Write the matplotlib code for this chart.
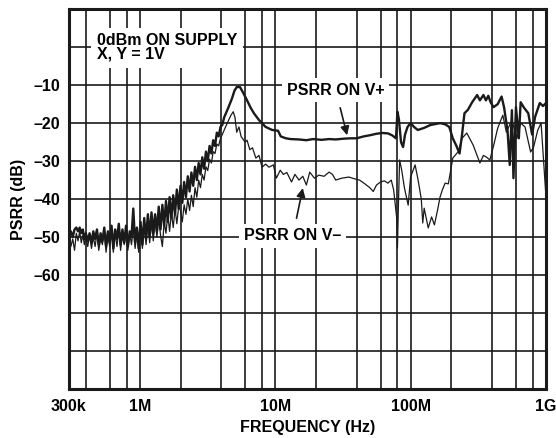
import matplotlib
matplotlib.use('Agg')
import matplotlib.pyplot as plt
import numpy as np

plt.rcParams['font.family'] = ['Liberation Sans', 'DejaVu Sans']
plt.rcParams['font.weight'] = 'bold'

# sample frequencies (MHz) for the noisy low-frequency part, shared by both traces
low_mhz = [0.300, 0.310, 0.320, 0.330, 0.340, 0.350, 0.360, 0.370, 0.380, 0.390, 0.400, 0.413,
           0.426, 0.440, 0.454, 0.468, 0.483, 0.498, 0.514, 0.530, 0.547, 0.564, 0.582, 0.600,
           0.619, 0.638, 0.658, 0.679, 0.700, 0.722, 0.745, 0.768, 0.792, 0.817, 0.843, 0.869,
           0.896, 0.924, 0.953, 0.983, 1.014, 1.046, 1.079, 1.113, 1.148, 1.184, 1.221, 1.259,
           1.298, 1.339, 1.381, 1.424, 1.469, 1.515, 1.562, 1.611, 1.661, 1.713, 1.767, 1.822,
           1.879, 1.938, 1.999, 2.062, 2.127, 2.194, 2.263, 2.334, 2.407, 2.482, 2.560, 2.640,
           2.723, 2.808, 2.896, 2.987, 3.081, 3.178, 3.278, 3.381, 3.487, 3.596, 3.709, 3.825,
           3.945, 4.069]

# PSRR on V+ (thick trace), dB
vplus_low_db = [-50.5, -48.5, -50, -48, -47.5, -48.5, -47.5, -49, -48, -50.5, -49, -51,
                -49, -51.5, -48.5, -50.5, -48, -52, -49, -51, -47.5, -52.5, -48.5, -51.5,
                -47, -53, -48, -50.5, -46.5, -52, -48, -51.5, -47, -52.5, -48.5, -50,
                -42.5, -51.5, -47.5, -53, -46, -52, -45, -50.5, -44, -50, -43.5, -49,
                -44, -48.5, -42, -48, -41.5, -47, -40.5, -46, -39.5, -45, -39, -44,
                -37.5, -42.5, -36.5, -41, -35.5, -39.5, -34, -38, -33, -36.5, -31.5, -35,
                -30.5, -33.5, -29, -32, -27.5, -30, -26, -28, -24.5, -26, -22.5, -23.5,
                -21, -20.5]
vplus_high_mhz = [4.2, 4.5, 4.8, 5.0, 5.2, 5.5, 5.8, 6.2, 6.6, 7.0, 7.6, 8.5, 9.5, 10.5, 11,
                  12, 13, 15, 17, 19, 22, 25, 28, 32, 36, 40, 45, 50, 56, 62, 68, 73, 78, 80, 82, 85,
                  88, 91, 95, 100, 106, 113, 125, 140, 155, 165, 180, 193, 205, 218, 230, 240, 250,
                  265, 285, 310, 325, 345, 360, 375, 390, 410, 440, 470, 490, 520, 540, 560, 575,
                  600, 630, 650, 690, 740, 790, 830, 900, 950, 1000]
vplus_high_db = [-18.5, -16, -13.5, -11.5, -10.5, -10.5, -12, -14, -16, -17.5, -19.2, -21, -21.8, -22, -23.5,
                 -24, -24.2, -24.3, -24.5, -24.2, -24.4, -24.2, -24.3, -24.1, -24, -24, -23.5, -23.2, -22.8, -22.6, -22.7, -23.2, -24, -17, -19, -25,
                 -26.3, -23, -21, -20, -21, -21.8, -21.3, -20.5, -20.2, -20, -20.3, -21, -24, -26, -28, -23, -17.4,
                 -16.5, -14.5, -12.6, -14, -12.6, -14, -12.8, -14.5, -15.8, -15, -13, -15.8, -22, -31, -16.6, -34.5,
                 -15.8, -24, -14.5, -16, -17.4, -23, -18.4, -14.7, -15.5, -14.7]

# PSRR on V- (thin trace), dB
vminus_low_db = [-49, -52.5, -50.5, -53.5, -49, -51, -48.5, -51.5, -49.5, -52, -50, -52.5,
                 -49.5, -53, -50, -52.5, -49, -53.5, -50.5, -52, -48.5, -54, -49.5, -52.5,
                 -48.5, -54, -49, -52.5, -48, -53.5, -49.5, -52, -48.5, -53.5, -49, -52,
                 -47.5, -53, -49, -54, -48, -53, -47, -52, -46.5, -51.5, -46, -51,
                 -45.5, -50, -45, -49.5, -52.5, -46, -49, -44, -48.5, -43.5, -47.5, -42.5,
                 -46.5, -42, -43, -46, -41.5, -44, -40, -43, -39, -42, -37, -39.5,
                 -35, -37, -33.5, -35, -31.5, -32.5, -29.5, -30.5, -27.5, -28, -25.5, -26,
                 -24, -23]
vminus_high_mhz = [4.3, 4.5, 4.7, 4.9, 5.05, 5.2, 5.4, 5.6, 6.0, 6.2, 6.5, 6.8, 7.2, 7.6, 8.0, 8.5,
                   9.0, 9.7, 10.2, 10.9, 11.5, 12.2, 13.2, 14, 15, 16, 17, 18, 19.5, 21, 23, 25, 26.5,
                   28, 31, 35, 38, 42, 46, 50, 53, 56, 60, 64, 68, 72, 75, 79, 80, 81.5, 83, 86, 90, 96,
                   100, 108, 113, 120, 123, 126, 135, 143, 150, 158, 165, 172, 180, 190, 205, 225, 240,
                   260, 290, 325, 345, 365, 385, 410, 440, 480, 510, 560, 610, 650, 700, 770, 810, 870,
                   920, 1000]
vminus_high_db = [-21, -19.5, -18, -17, -18.5, -22.4, -21, -23.5, -25, -24.5, -27, -26.5, -29.2, -28.5, -31.6, -30.8,
                  -31.6, -31, -34.5, -32.4, -33.5, -33, -35.5, -33.5, -35, -34, -36.3, -32.9, -34.5, -33.7, -34, -32.9, -33.5,
                  -35, -34.5, -34.2, -34.6, -35, -36, -37, -38, -36.3, -35.5, -35.2, -35.8, -35, -37.6, -45, -52.9, -40, -29.7, -32.4, -37, -41.6,
                  -34.2, -31, -34.5, -40, -46.3, -42.4, -47.6, -44.7, -46.8, -43, -39.5, -37.5, -35.8, -36, -29.2, -27.5, -24,
                  -22.6, -25.8, -30.5, -28.5, -29, -29.7, -26, -21.3, -17.9, -22.4, -19.2, -24, -20, -21, -27.6, -26.3, -21.8,
                  -20, -39.5]

x_ticks = [3e5, 1e6, 1e7, 1e8, 1e9]
x_tick_labels = ['300k', '1M', '10M', '100M', '1G']
y_labels = {-10: '–10', -20: '–20', -30: '–30', -40: '–40', -50: '–50', -60: '–60'}

ink = '#1a1a1a'
fig = plt.figure(figsize=(5.56, 4.38), dpi=100)
ax = fig.add_axes([0.124, 0.112, 0.858, 0.867])

vplus_f = np.array(low_mhz + vplus_high_mhz) * 1e6
vminus_f = np.array(low_mhz + vminus_high_mhz) * 1e6
ax.plot(vplus_f, vplus_low_db + vplus_high_db, color=ink, lw=1.7, zorder=3)
ax.plot(vminus_f, vminus_low_db + vminus_high_db, color=ink, lw=0.9, zorder=3)

ax.set_xscale('log')
ax.set_xlim(3e5, 1e9)
ax.set_ylim(-90, 10)

# grid: 1,2,4,6,8 per decade, every 10 dB
grid_x = []
for d in [1e5, 1e6, 1e7, 1e8]:
    for m in [1, 2, 4, 6, 8]:
        f = m * d
        if 3e5 < f < 1e9:
            grid_x.append(f)
for f in grid_x:
    ax.axvline(f, color=ink, lw=1.2, zorder=1)
for y in range(-80, 10, 10):
    ax.axhline(y, color=ink, lw=1.2, zorder=1)

ax.xaxis.set_minor_locator(matplotlib.ticker.NullLocator())
ax.set_xticks(x_ticks)
ax.set_xticklabels(x_tick_labels, fontsize=11.5, fontweight='bold')
yt = list(range(-90, 11, 10))
ax.set_yticks(yt)
ax.set_yticklabels([y_labels.get(v, '') for v in yt], fontsize=11.5, fontweight='bold')
ax.tick_params(axis='y', length=0, pad=6)
ax.tick_params(axis='x', length=0, pad=7)
for s in ax.spines.values():
    s.set_linewidth(2.2)
    s.set_color(ink)

ax.set_xlabel('FREQUENCY (Hz)', fontsize=11.5, fontweight='bold', labelpad=4.5)
ax.set_ylabel('PSRR (dB)', fontsize=11.5, fontweight='bold', labelpad=6)

ax.text(0.058, 0.937, '0dBm ON SUPPLY\nX, Y = 1V', transform=ax.transAxes, fontsize=11.5,
        fontweight='bold', va='top', ha='left', linespacing=0.9, zorder=4,
        bbox=dict(boxstyle='square,pad=0.35', fc='white', ec='none'))

ax.annotate('PSRR ON V+', xy=(34e6, -23.2), xytext=(28e6, -11.3), fontsize=11.5, fontweight='bold',
            ha='center', va='center', zorder=4,
            bbox=dict(boxstyle='square,pad=0.3', fc='white', ec='none'),
            arrowprops=dict(arrowstyle='-|>', color=ink, lw=1.2, mutation_scale=13, shrinkA=4, shrinkB=0))
ax.annotate('PSRR ON V–', xy=(16e6, -37.1), xytext=(13.5e6, -49.7), fontsize=11.5, fontweight='bold',
            ha='center', va='center', zorder=4,
            bbox=dict(boxstyle='square,pad=0.3', fc='white', ec='none'),
            arrowprops=dict(arrowstyle='-|>', color=ink, lw=1.2, mutation_scale=13, shrinkA=4, shrinkB=0))

fig.savefig('out.png', dpi=100)
